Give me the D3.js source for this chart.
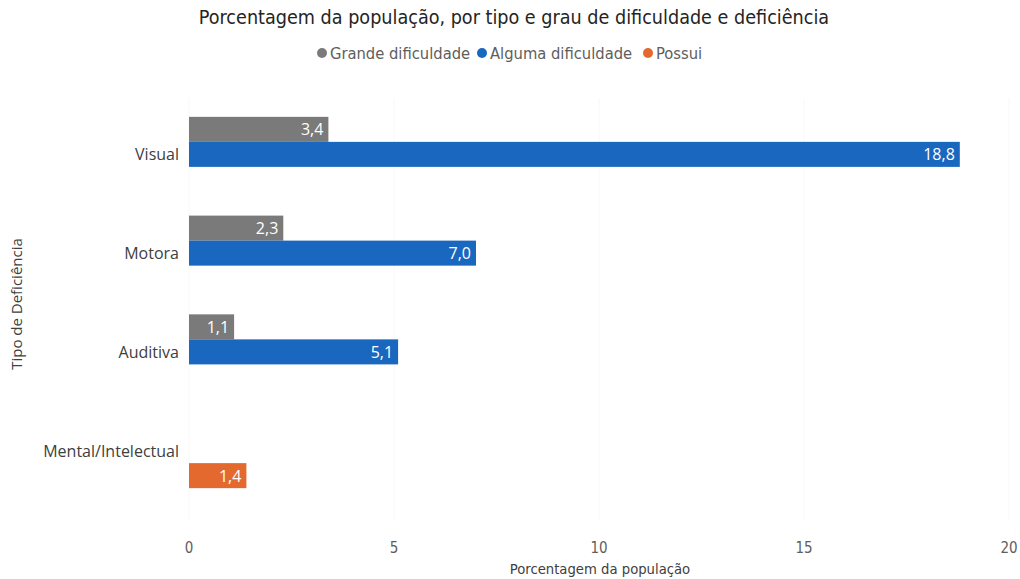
<!DOCTYPE html>
<html>
<head>
<meta charset="utf-8">
<script src="https://cdn.jsdelivr.net/npm/d3@7"></script>
<style>
  body { margin: 0; background: #fff; }
  svg text { fill: #404040; }
</style>
</head>
<body>
<svg id="chart" width="1020" height="579"></svg>
<script>
// dados
var categorias = ["Visual", "Motora", "Auditiva", "Mental/Intelectual"];
var series = ["Grande dificuldade", "Alguma dificuldade", "Possui"];
var grande = [3.4, 2.3, 1.1, null];
var alguma = [18.8, 7.0, 5.1, null];
var possui = [null, null, null, 1.4];
var ticksX = [0, 5, 10, 15, 20];
var cores = ["#7a7a7a", "#1a67bf", "#e4692f"];

var svg = d3.select("#chart");
var condensed = "'Liberation Sans Narrow', 'DejaVu Sans Condensed', sans-serif";
var ui = "'Open Sans', 'Noto Sans', sans-serif";

var x = d3.scaleLinear().domain([0, 20]).range([189, 1009]);
var y = d3.scaleBand().domain(categorias).range([105, 500]).paddingInner(0.24).paddingOuter(0.12);
var y1 = d3.scaleBand().domain(series).range([0, y.bandwidth()]);

// grade
svg.append("g").selectAll("line").data(ticksX).enter().append("line")
  .attr("x1", function(d){ return x(d); }).attr("x2", function(d){ return x(d); })
  .attr("y1", 98).attr("y2", 520)
  .attr("stroke", "#f8f8f8").attr("stroke-width", 1);

// titulo
svg.append("text").attr("x", 514).attr("y", 24).attr("text-anchor", "middle")
  .style("font-family", condensed).style("font-size", "19.6px").style("fill", "#252423")
  .text("Porcentagem da população, por tipo e grau de dificuldade e deficiência");

// legenda
var legX = [322, 482, 648];
var leg = svg.append("g").selectAll("g").data(series).enter().append("g")
  .attr("transform", function(d, i){ return "translate(" + legX[i] + ",53)"; });
leg.append("circle").attr("r", 5).attr("fill", function(d, i){ return cores[i]; });
leg.append("text").attr("x", 8).attr("y", 5.5)
  .style("font-family", condensed).style("font-size", "16.4px").style("fill", "#605e5c")
  .text(function(d){ return d; });

// barras
var dados = [];
categorias.forEach(function(c, i){
  [grande, alguma, possui].forEach(function(s, j){
    if (s[i] != null) dados.push({cat: c, serie: series[j], v: s[i], cor: cores[j]});
  });
});

var barras = svg.append("g").selectAll("g").data(dados).enter().append("g");
barras.append("rect")
  .attr("x", x(0))
  .attr("y", function(d){ return y(d.cat) + y1(d.serie); })
  .attr("width", function(d){ return x(d.v) - x(0); })
  .attr("height", y1.bandwidth())
  .attr("fill", function(d){ return d.cor; });
barras.append("text")
  .attr("x", function(d){ return x(d.v) - 5; })
  .attr("y", function(d){ return y(d.cat) + y1(d.serie) + y1.bandwidth() / 2 + 6; })
  .attr("text-anchor", "end")
  .style("font-family", ui).style("font-size", "16px").style("fill", "#fff")
  .text(function(d){ return d3.format(".1f")(d.v).replace(".", ","); });

// eixo y
svg.append("g").selectAll("text").data(categorias).enter().append("text")
  .attr("x", 179).attr("y", function(d){ return y(d) + y.bandwidth() / 2 + 6; })
  .attr("text-anchor", "end")
  .style("font-family", ui).style("font-size", "16px").style("fill", "#404040")
  .text(function(d){ return d; });

// eixo x
svg.append("g").selectAll("text").data(ticksX).enter().append("text")
  .attr("x", function(d){ return x(d); }).attr("y", 553)
  .attr("text-anchor", "middle")
  .style("font-family", condensed).style("font-size", "15px").style("fill", "#605e5c")
  .text(function(d){ return d; });

svg.append("text").attr("x", 600).attr("y", 574).attr("text-anchor", "middle")
  .style("font-family", condensed).style("font-size", "14.7px").style("fill", "#404040")
  .text("Porcentagem da população");

svg.append("text").attr("transform", "translate(22,304) rotate(-90)").attr("text-anchor", "middle")
  .style("font-family", ui).style("font-size", "15px").style("fill", "#404040")
  .text("Tipo de Deficiência");
</script>
</body>
</html>
